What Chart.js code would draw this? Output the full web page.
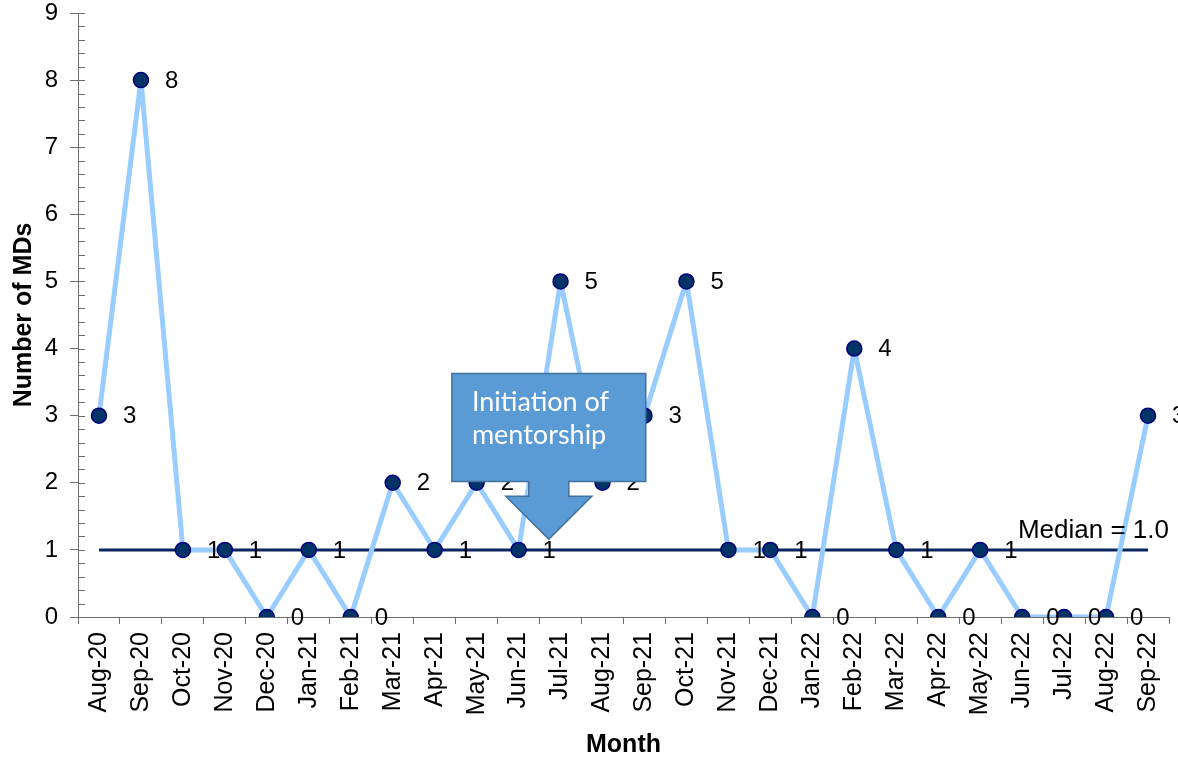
<!DOCTYPE html>
<html>
<head>
<meta charset="utf-8">
<script src="https://cdn.jsdelivr.net/npm/chart.js@4/dist/chart.umd.min.js"></script>
<style>
  html, body { margin: 0; padding: 0; background: #ffffff; }
  #wrap { width: 1178px; height: 761px; }
</style>
</head>
<body>
<div id="wrap"><canvas id="c" width="1178" height="761"></canvas></div>
<script>
// Monthly count of MDs, Aug 2020 – Sep 2022
const months = ['Aug-20','Sep-20','Oct-20','Nov-20','Dec-20','Jan-21','Feb-21','Mar-21','Apr-21','May-21','Jun-21','Jul-21','Aug-21',
                'Sep-21','Oct-21','Nov-21','Dec-21','Jan-22','Feb-22','Mar-22','Apr-22','May-22','Jun-22','Jul-22','Aug-22','Sep-22'];
const mdCounts = [3, 8, 1, 1, 0, 1, 0, 2, 1, 2, 1, 5, 2, 3, 5, 1, 1, 0, 4, 1, 0, 1, 0, 0, 0, 3];
const medianValue = 1.0;
const medianLine = months.map(() => medianValue);
const calloutLines = ['Initiation of', 'mentorship'];

const FONT = '"Liberation Sans", Arial, sans-serif';
const AXIS_GREY = '#6e6e6e';

// value labels to the right of each point, median caption, minor ticks, callout
const overlay = {
  id: 'overlay',
  afterDatasetsDraw(chart) {
    const ctx = chart.ctx;
    const ys = chart.scales.y;
    const area = chart.chartArea;

    // y-axis minor and inner major ticks
    ctx.save();
    ctx.strokeStyle = AXIS_GREY;
    ctx.lineWidth = 1;
    ctx.beginPath();
    for (let v = 0; v <= 9.0001; v += 0.2) {
      const y = Math.round(ys.getPixelForValue(v)) + 0.5;
      ctx.moveTo(area.left, y);
      ctx.lineTo(area.left + 7, y);
    }
    ctx.stroke();
    ctx.restore();

    // median caption
    ctx.save();
    ctx.font = '26px ' + FONT;
    ctx.fillStyle = '#000';
    ctx.textAlign = 'right';
    ctx.textBaseline = 'alphabetic';
    ctx.fillText('Median = ' + medianValue.toFixed(1), area.right, ys.getPixelForValue(medianValue) - 12);
    ctx.restore();

    // data labels
    const meta = chart.getDatasetMeta(0);
    ctx.save();
    ctx.font = '24px ' + FONT;
    ctx.fillStyle = '#000';
    ctx.textAlign = 'left';
    ctx.textBaseline = 'middle';
    meta.data.forEach((pt, i) => {
      ctx.fillText(String(mdCounts[i]), pt.x + 24, pt.y + 1);
    });
    ctx.restore();
  },
  afterDraw(chart) {
    const ctx = chart.ctx;
    const xs = chart.scales.x, ys = chart.scales.y;
    // callout box with a downward arrow
    const left = xs.getPixelForValue(8.41);
    const right = xs.getPixelForValue(13.03);
    const top = ys.getPixelForValue(3.63);
    const bottom = ys.getPixelForValue(2.02);
    const tipX = xs.getPixelForValue(10.72);
    const tipY = ys.getPixelForValue(1.16);
    const stemBottom = ys.getPixelForValue(1.80);
    const stemHalf = 20, headHalf = 43;

    ctx.save();
    ctx.beginPath();
    ctx.moveTo(left, top);
    ctx.lineTo(right, top);
    ctx.lineTo(right, bottom);
    ctx.lineTo(tipX + stemHalf, bottom);
    ctx.lineTo(tipX + stemHalf, stemBottom);
    ctx.lineTo(tipX + headHalf, stemBottom);
    ctx.lineTo(tipX, tipY);
    ctx.lineTo(tipX - headHalf, stemBottom);
    ctx.lineTo(tipX - stemHalf, stemBottom);
    ctx.lineTo(tipX - stemHalf, bottom);
    ctx.lineTo(left, bottom);
    ctx.closePath();
    ctx.fillStyle = '#5B9BD5';
    ctx.fill();
    ctx.strokeStyle = '#41719C';
    ctx.lineWidth = 1.5;
    ctx.stroke();

    ctx.font = '27px Lato, "Open Sans", sans-serif';
    ctx.fillStyle = '#ffffff';
    ctx.textAlign = 'left';
    ctx.textBaseline = 'alphabetic';
    ctx.fillText(calloutLines[0], left + 20, top + 38);
    ctx.fillText(calloutLines[1], left + 20, top + 71);
    ctx.restore();
  }
};

new Chart(document.getElementById('c'), {
  type: 'line',
  data: {
    labels: months,
    datasets: [
      {
        label: 'Number of MDs',
        data: mdCounts,
        borderColor: '#99CCFF',
        borderWidth: 5,
        borderJoinStyle: 'round',
        borderCapStyle: 'round',
        pointRadius: 7.5,
        pointBorderWidth: 1.5,
        pointBackgroundColor: '#003366',
        pointBorderColor: '#000080',
        tension: 0,
        order: 0
      },
      {
        label: 'Median',
        data: medianLine,
        borderColor: '#0B2560',
        borderWidth: 3,
        pointRadius: 0,
        tension: 0,
        order: 1
      }
    ]
  },
  options: {
    responsive: false,
    animation: false,
    events: [],
    layout: { padding: { top: 13, right: 8, left: 0, bottom: 0 } },
    plugins: {
      legend: { display: false },
      tooltip: { enabled: false },
      title: { display: false }
    },
    scales: {
      x: {
        type: 'category',
        offset: true,
        grid: {
          offset: true,
          drawOnChartArea: false,
          drawTicks: true,
          tickLength: 7,
          tickColor: AXIS_GREY
        },
        border: { display: true, color: AXIS_GREY, width: 1 },
        ticks: {
          autoSkip: false,
          maxRotation: 90,
          minRotation: 90,
          padding: 8,
          color: '#000',
          font: { family: FONT, size: 25 }
        },
        title: {
          display: true,
          text: 'Month',
          color: '#000',
          font: { family: FONT, size: 25, weight: 'bold' },
          padding: { top: 0, bottom: 1 }
        },
        afterFit(scale) {
          scale.height = 144;
          scale.paddingLeft = 0;
          scale.paddingRight = 0;
        }
      },
      y: {
        min: 0,
        max: 9,
        ticks: {
          stepSize: 1,
          padding: 12,
          color: '#000',
          font: { family: FONT, size: 24 }
        },
        grid: {
          drawOnChartArea: false,
          drawTicks: true,
          tickLength: 8,
          tickColor: AXIS_GREY
        },
        border: { display: true, color: AXIS_GREY, width: 1 },
        title: {
          display: true,
          text: 'Number of MDs',
          color: '#000',
          font: { family: FONT, size: 25, weight: 'bold' },
          padding: { top: 9, bottom: 0 }
        },
        afterFit(scale) {
          scale.width = 78;
          scale.paddingTop = 0;
          scale.paddingBottom = 0;
        }
      }
    }
  },
  plugins: [overlay]
});
</script>
</body>
</html>
